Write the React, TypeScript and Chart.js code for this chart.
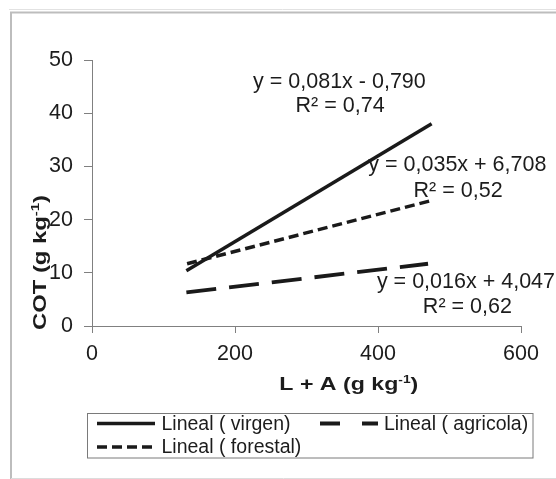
import React, { useEffect, useRef } from 'react';
import { Chart, registerables } from 'chart.js';

Chart.register(...registerables);

const FONT = '"Liberation Sans", Arial, Helvetica, sans-serif';
const INK = '#1c1c1c';
const AXIS = '#808080';

const xTickValues = [0, 200, 400, 600];
const yTickValues = [0, 10, 20, 30, 40, 50];
const seriesLabels = ['Lineal ( virgen)', 'Lineal ( agricola)', 'Lineal ( forestal)'];
const virgenX = [132, 475];
const virgenY = [10.4, 38.0];
const agricolaX = [132, 470];
const agricolaY = [6.3, 11.7];
const forestalX = [133, 475];
const forestalY = [11.7, 23.6];
const equationTexts = ['y = 0,081x - 0,790', 'y = 0,035x + 6,708', 'y = 0,016x + 4,047'];
const r2Texts = ['R² = 0,74', 'R² = 0,52', 'R² = 0,62'];
const equationX = [346, 511, 523];
const equationY = [45.9, 30.2, 8.2];
const r2X = [347, 512, 525];
const r2Y = [41.4, 25.4, 3.6];
const xTitleParts = ['L + A (g kg', '-1', ')'];
const yTitleParts = ['COT (g kg', '-1', ')'];

function pts(xs: number[], ys: number[]) {
  return xs.map((x, i) => ({ x, y: ys[i] }));
}

function drawTitle(ctx: CanvasRenderingContext2D, parts: string[], size: number, cx: number, cy: number, rot: number, targetWidth: number) {
  const main = `bold ${size}px ${FONT}`;
  const sup = `bold ${Math.round(size * 0.62)}px ${FONT}`;
  ctx.font = main;
  const w0 = ctx.measureText(parts[0]).width;
  const w2 = ctx.measureText(parts[2]).width;
  ctx.font = sup;
  const w1 = ctx.measureText(parts[1]).width;
  const total = w0 + w1 + w2;
  const sx = targetWidth / total;
  ctx.save();
  ctx.translate(cx, cy);
  if (rot) ctx.rotate(rot);
  ctx.scale(sx, 1);
  ctx.fillStyle = INK;
  ctx.textAlign = 'left';
  ctx.textBaseline = 'alphabetic';
  let x = -total / 2;
  ctx.font = main;
  ctx.fillText(parts[0], x, 0);
  x += w0;
  ctx.font = sup;
  ctx.fillText(parts[1], x, -size * 0.4);
  x += w1;
  ctx.font = main;
  ctx.fillText(parts[2], x, 0);
  ctx.restore();
}

const legendDashes = [[], [20, 22], [10, 5]];
const legendSlots = [
  { lx: 97, ly: 423.5, tx: 161.5 },
  { lx: 320, ly: 423.5, tx: 384 },
  { lx: 97, ly: 447, tx: 161.5 },
];

const overlayPlugin = {
  id: 'overlay',
  beforeDraw(chart: any) {
    const ctx = chart.ctx as CanvasRenderingContext2D;
    ctx.save();
    ctx.fillStyle = '#ffffff';
    ctx.fillRect(0, 0, chart.width, chart.height);
    ctx.strokeStyle = '#e2e2e2';
    ctx.lineWidth = 1;
    ctx.beginPath();
    ctx.moveTo(9, 9.5);
    ctx.lineTo(556, 9.5);
    ctx.stroke();
    ctx.strokeStyle = '#bdbdbd';
    ctx.lineWidth = 2;
    ctx.beginPath();
    ctx.moveTo(11, 479);
    ctx.lineTo(11, 12.5);
    ctx.lineTo(556, 12.5);
    ctx.stroke();
    ctx.strokeStyle = '#dcdcdc';
    ctx.lineWidth = 1;
    ctx.beginPath();
    ctx.moveTo(11, 478.5);
    ctx.lineTo(556, 478.5);
    ctx.stroke();
    ctx.restore();
  },
  afterDraw(chart: any) {
    const ctx = chart.ctx as CanvasRenderingContext2D;
    const xs = chart.scales.x;
    const ys = chart.scales.y;
    ctx.save();
    ctx.fillStyle = INK;
    ctx.font = `21.5px ${FONT}`;
    ctx.textAlign = 'center';
    ctx.textBaseline = 'middle';
    for (let i = 0; i < equationTexts.length; i++) {
      ctx.fillText(equationTexts[i], xs.getPixelForValue(equationX[i]), ys.getPixelForValue(equationY[i]));
      ctx.fillText(r2Texts[i], xs.getPixelForValue(r2X[i]), ys.getPixelForValue(r2Y[i]));
    }
    ctx.restore();

    drawTitle(ctx, xTitleParts, 18.5, 348.8, 390, 0, 139);
    drawTitle(ctx, yTitleParts, 17.5, 46, 262.5, -Math.PI / 2, 135);

    // legend
    ctx.save();
    ctx.strokeStyle = '#7a7a7a';
    ctx.lineWidth = 1;
    ctx.strokeRect(87.5, 413.5, 445.5, 44.5);
    const ds = chart.data.datasets;
    for (let i = 0; i < ds.length; i++) {
      const s = legendSlots[i];
      ctx.strokeStyle = ds[i].borderColor;
      ctx.lineWidth = ds[i].borderWidth;
      ctx.setLineDash(legendDashes[i]);
      ctx.beginPath();
      ctx.moveTo(s.lx, s.ly);
      ctx.lineTo(s.lx + 58, s.ly);
      ctx.stroke();
      ctx.setLineDash([]);
      ctx.fillStyle = INK;
      ctx.font = `19.5px ${FONT}`;
      ctx.textAlign = 'left';
      ctx.textBaseline = 'middle';
      ctx.fillText(ds[i].label, s.tx, s.ly + 1);
    }
    ctx.restore();
  },
};

export default function App() {
  const ref = useRef<HTMLCanvasElement | null>(null);
  useEffect(() => {
    if (!ref.current) return;
    const chart = new Chart(ref.current, {
      type: 'line',
      data: {
        datasets: [
          { label: seriesLabels[0], data: pts(virgenX, virgenY), borderColor: '#1a1a1a', borderWidth: 3.5, borderDash: [], pointRadius: 0, fill: false },
          { label: seriesLabels[1], data: pts(agricolaX, agricolaY), borderColor: '#1a1a1a', borderWidth: 3.8, borderDash: [30, 13], pointRadius: 0, fill: false },
          { label: seriesLabels[2], data: pts(forestalX, forestalY), borderColor: '#1a1a1a', borderWidth: 3.5, borderDash: [10, 5], pointRadius: 0, fill: false },
        ],
      } as any,
      options: {
        responsive: false,
        animation: false,
        layout: { padding: { top: 60, right: 35, bottom: 0, left: 0 } },
        plugins: { legend: { display: false }, tooltip: { enabled: false } },
        scales: {
          x: {
            type: 'linear',
            min: 0,
            max: 600,
            afterBuildTicks: (s: any) => { s.ticks = xTickValues.map((v) => ({ value: v })); },
            grid: { drawOnChartArea: false, drawTicks: true, tickLength: 7, tickColor: AXIS, tickWidth: 1 },
            border: { color: AXIS, width: 1 },
            ticks: { font: { family: FONT, size: 21.5 }, color: INK, padding: 8, maxRotation: 0 },
            afterFit: (s: any) => { s.height = 153; },
          },
          y: {
            type: 'linear',
            min: 0,
            max: 50,
            afterBuildTicks: (s: any) => { s.ticks = yTickValues.map((v) => ({ value: v })); },
            grid: { drawOnChartArea: false, drawTicks: true, tickLength: 8, tickColor: AXIS, tickWidth: 1 },
            border: { color: AXIS, width: 1 },
            ticks: { font: { family: FONT, size: 21.5 }, color: INK, padding: 11 },
            afterFit: (s: any) => { s.width = 92; },
          },
        },
      } as any,
      plugins: [overlayPlugin],
    });
    return () => chart.destroy();
  }, []);
  return (
    <div style={{ position: 'absolute', left: 0, top: 0, width: 556, height: 479, background: '#fff' }}>
      <canvas ref={ref} width={556} height={479} style={{ display: 'block', width: 556, height: 479 }} />
    </div>
  );
}
